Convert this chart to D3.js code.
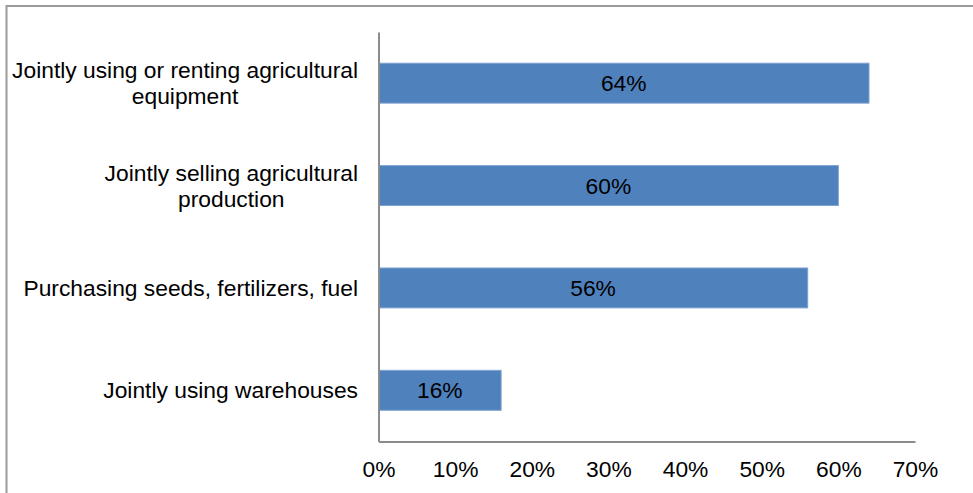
<!DOCTYPE html>
<html>
<head>
<meta charset="utf-8">
<script src="https://cdn.jsdelivr.net/npm/d3@7"></script>
<style>
  html, body { margin: 0; padding: 0; background: #fff; }
  svg { display: block; }
  text { font-family: Arial, "Liberation Sans", sans-serif; fill: #000; }
</style>
</head>
<body>
<svg id="chart" width="973" height="493"></svg>
<script>
// Shares of respondents by type of cooperation
const categories = [
  ["Jointly using or renting agricultural", "equipment"],
  ["Jointly selling agricultural", "production"],
  ["Purchasing seeds, fertilizers, fuel"],
  ["Jointly using warehouses"]
];
const values = [64, 60, 56, 16];
const tickValues = [0, 10, 20, 30, 40, 50, 60, 70];

const svg = d3.select("#chart");
const W = 973, H = 493;
const margin = { left: 378.5, right: 58, top: 32, bottom: 51.5 };
const fontSize = 22.8;

// Outer frame
svg.append("rect")
  .attr("x", 6.5).attr("y", 6)
  .attr("width", W + 20).attr("height", H + 20)
  .attr("fill", "none").attr("stroke", "#9a9a9a").attr("stroke-width", 2);

const x = d3.scaleLinear().domain([0, 70]).range([margin.left, W - margin.right]);
const y = d3.scaleBand()
  .domain(d3.range(categories.length))
  .range([margin.top, H - margin.bottom])
  .paddingInner(0.61).paddingOuter(0.305);

// Bars
svg.append("g").selectAll("rect")
  .data(values)
  .join("rect")
  .attr("x", x(0))
  .attr("y", (d, i) => y(i))
  .attr("width", d => x(d) - x(0))
  .attr("height", y.bandwidth())
  .attr("fill", "#4f81bd")
  .attr("stroke", "#7fa3d1").attr("stroke-width", 1);

// Value labels
svg.append("g").selectAll("text")
  .data(values)
  .join("text")
  .attr("x", d => (x(0) + x(d)) / 2)
  .attr("y", (d, i) => y(i) + y.bandwidth() / 2)
  .attr("dy", "0.35em")
  .attr("text-anchor", "middle")
  .style("font-size", fontSize + "px")
  .text(d => d + "%");

// Axes
const xAxis = d3.axisBottom(x).tickValues(tickValues).tickSize(0).tickPadding(19)
  .tickFormat(d => d + "%");
const gx = svg.append("g")
  .attr("transform", `translate(0,${H - margin.bottom})`)
  .call(xAxis);
gx.select(".domain").attr("stroke", "#8c8c8c").attr("stroke-width", 2);
gx.selectAll("text").style("font-size", fontSize + "px").attr("font-family", null);

const yAxis = d3.axisLeft(y).tickSize(0).tickFormat("");
const gy = svg.append("g")
  .attr("transform", `translate(${margin.left},0)`)
  .call(yAxis);
gy.select(".domain").attr("stroke", "#8c8c8c").attr("stroke-width", 2);

// Category labels: wrapped lines, block right-aligned, lines centred within block
const labelRight = 358;
const lineH = 26;
const lg = svg.append("g");
categories.forEach((lines, i) => {
  const cy = y(i) + y.bandwidth() / 2;
  const t = lg.append("text").style("font-size", fontSize + "px").attr("text-anchor", "middle");
  lines.forEach((ln, j) => {
    t.append("tspan").text(ln);
  });
  const widths = [];
  t.selectAll("tspan").each(function () { widths.push(this.getComputedTextLength()); });
  const maxW = d3.max(widths);
  const cx = labelRight - maxW / 2;
  const y0 = cy - (lines.length - 1) * lineH / 2;
  t.selectAll("tspan")
    .attr("x", cx)
    .attr("y", (d, j) => y0 + j * lineH)
    .attr("dy", "0.35em");
});
</script>
</body>
</html>
